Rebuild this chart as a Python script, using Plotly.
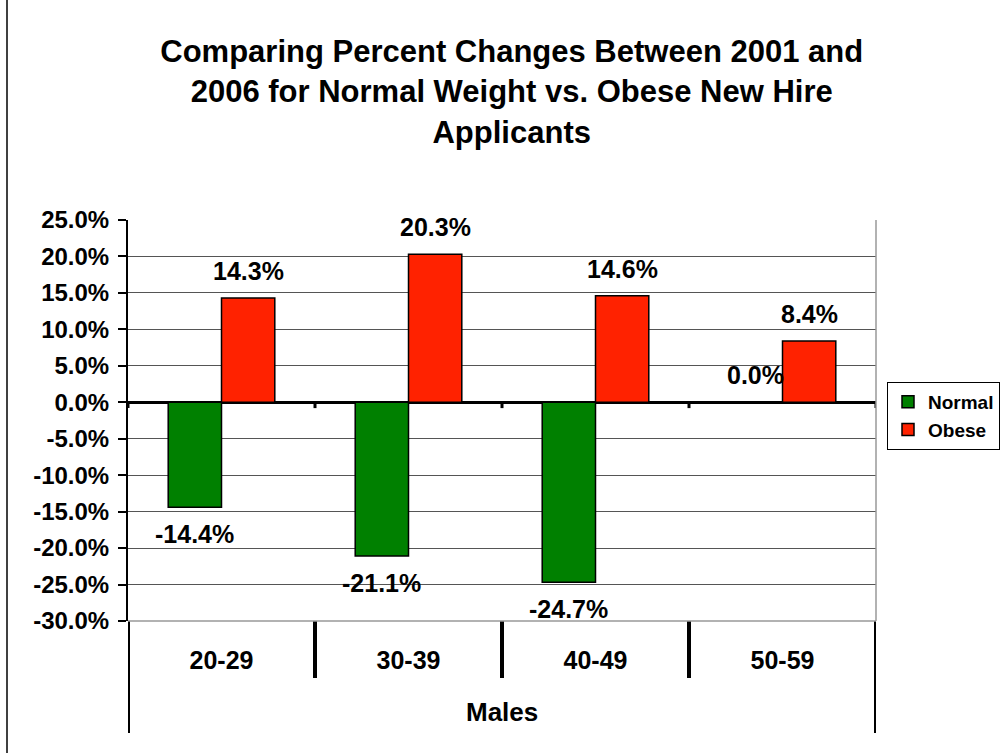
import plotly.graph_objects as go

categories = ["20-29", "30-39", "40-49", "50-59"]
normal = [-14.4, -21.1, -24.7, 0.0]
obese = [14.3, 20.3, 14.6, 8.4]
y_ticks = [25, 20, 15, 10, 5, 0, -5, -10, -15, -20, -25, -30]

FONT = "Arial, 'Liberation Sans', sans-serif"
W, H = 1004, 753
ML, MR, MT, MB = 128, 128, 220, 132
PW = W - ML - MR
PH = H - MT - MB

fig = go.Figure()
fig.add_trace(go.Bar(x=categories, y=normal, name="Normal",
                     marker=dict(color="#008000", line=dict(color="black", width=1.5))))
fig.add_trace(go.Bar(x=categories, y=obese, name="Obese",
                     marker=dict(color="#FF2200", line=dict(color="black", width=1.5))))

bargap = 0.43
bw = (1 - bargap) / 2
annotations = []
for i, (n, o) in enumerate(zip(normal, obese)):
    for v, off in ((n, -bw / 2), (o, bw / 2)):
        annotations.append(dict(
            x=i + off, y=v, xref="x", yref="y", text=f"{v:.1f}%", showarrow=False,
            yshift=27 if v >= 0 else -27, yanchor="middle",
            font=dict(family=FONT, size=25, color="black", weight="bold")))

annotations.append(dict(x=0.5, y=0, xref="paper", yref="paper", text="Males",
                        showarrow=False, yshift=-91, yanchor="middle",
                        font=dict(family=FONT, size=26, color="black", weight="bold")))

shapes = []
n = len(categories)
for k in range(n + 1):
    outer = k in (0, n)
    shapes.append(dict(type="line", xref="x", yref="paper", x0=k - 0.5, x1=k - 0.5,
                       y0=0, y1=(-112 if outer else -57) / PH,
                       line=dict(color="black", width=4)))
    shapes.append(dict(type="line", xref="x", yref="y", x0=k - 0.5, x1=k - 0.5,
                       y0=0, y1=-0.8, line=dict(color="black", width=3)))
# right plot border
shapes.append(dict(type="line", xref="paper", yref="paper", x0=1, x1=1, y0=0, y1=1,
                   line=dict(color="#999999", width=1.5)))
# bottom border
shapes.append(dict(type="line", xref="paper", yref="paper", x0=0, x1=1, y0=0, y1=0,
                   line=dict(color="#999999", width=1.5)))
# page border line at left
shapes.append(dict(type="line", xref="paper", yref="paper",
                   x0=(7 - ML) / PW, x1=(7 - ML) / PW, y0=-MB / PH, y1=1 + MT / PH,
                   line=dict(color="black", width=1.5)))

fig.update_layout(
    width=W, height=H,
    margin=dict(l=ML, r=MR, t=MT, b=MB, autoexpand=False),
    paper_bgcolor="white", plot_bgcolor="white",
    barmode="group", bargap=bargap, bargroupgap=0,
    font=dict(family=FONT, color="black"),
    title=dict(text="<b>Comparing Percent Changes Between 2001 and<br>2006 for Normal Weight vs. Obese New Hire<br>Applicants</b>",
               x=0.513, xref="paper", xanchor="center", yref="container",
               y=1 - 62 / H, yanchor="top",
               font=dict(family=FONT, size=31, color="black")),
    xaxis=dict(type="category", range=[-0.5, n - 0.5], showgrid=False, showline=False,
               ticks="", zeroline=False, ticklabelstandoff=22,
               tickfont=dict(family=FONT, size=25, color="black", weight="bold")),
    yaxis=dict(range=[-30, 25], tickvals=y_ticks, ticktext=[f"{t:.1f}%" for t in y_ticks],
               showgrid=True, gridcolor="#555555", gridwidth=1,
               zeroline=True, zerolinecolor="black", zerolinewidth=3,
               showline=True, linecolor="black", linewidth=2,
               ticks="outside", ticklen=8, tickwidth=2, tickcolor="black",
               ticklabelstandoff=4,
               tickfont=dict(family=FONT, size=24, color="black", weight="bold")),
    legend=dict(x=(887 - ML) / PW, y=(H - MB - 382) / PH, xanchor="left", yanchor="top",
                bordercolor="black", borderwidth=1, bgcolor="white",
                font=dict(family=FONT, size=19, color="black", weight="bold"),
                tracegroupgap=12, itemwidth=30),
    annotations=annotations, shapes=shapes,
)

fig.write_html("out.html")
